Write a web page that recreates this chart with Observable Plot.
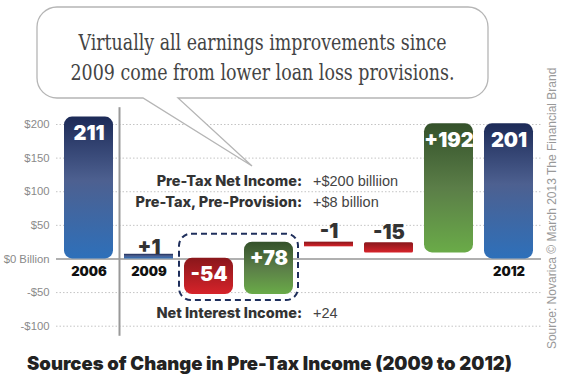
<!DOCTYPE html>
<html><head><meta charset="utf-8">
<script src="https://cdn.jsdelivr.net/npm/d3@7"></script>
<script src="https://cdn.jsdelivr.net/npm/@observablehq/plot@0.6"></script>
<style>
html,body{margin:0;padding:0;background:#fff;}
#wrap{position:relative;width:565px;height:380px;overflow:hidden;}
#wrap svg{display:block;}
#title{position:absolute;left:27px;top:352px;white-space:nowrap;font-family:Inter,"Liberation Sans",Arial,sans-serif;font-weight:900;font-size:18.5px;line-height:22px;color:#222;}
</style></head><body><div id="wrap"></div><script>
// ---- data ----
const categories = ["2006","2009","Interest −","Interest +","Other","Expenses","Provisions","2012"];
const values = [211, 1, -54, 78, -1, -15, 192, 201];
const isTotal = [true, true, false, false, false, false, false, true];
const barLabels = ["211","+1","-54","+78","-1","-15","+192","201"];
const axisCategories = ["2006","2009","2012"];
const yTicks = [200,150,100,50,0,-50,-100];
const yTickLabels = ["$200","$150","$100","$50","$0 Billion","-$50","-$100"];
const noteLabels = ["Pre-Tax Net Income:","Pre-Tax, Pre-Provision:","Net Interest Income:"];
const noteValues = ["+$200 billiion","+$8 billion","+24"];
const noteY = [115, 84, -81];
const bubbleLines = ["Virtually all earnings improvements since","2009 come from lower loan loss provisions."];
const sourceText = "Source: Novarica © March 2013 The Financial Brand";
const titleText = "Sources of Change in Pre-Tax Income (2009 to 2012)";

// ---- derived waterfall rows ----
let run = 0;
const rows = categories.map((c, i) => {
  const v = values[i];
  let y1, y2;
  if (isTotal[i]) { y1 = 0; y2 = v; run = v; } else { y1 = run; y2 = run + v; run = y2; }
  return {cat: c, v, y1, y2, top: Math.max(y1, y2), bottom: Math.min(y1, y2),
    kind: isTotal[i] ? "total" : (v > 0 ? "up" : "down"), label: barLabels[i],
    small: Math.abs(v) < 5, big: Math.abs(v) >= 30};
});
const grad = {total: "url(#gBlue)", up: "url(#gGreen)", down: "url(#gRed)"};
const notes = noteLabels.map((l, i) => ({cat: "Other", label: l, value: noteValues[i], y: noteY[i]}));

const heavy = "Inter, 'Liberation Sans', Arial, sans-serif";

function defsMark() {
  const defs = d3.create("svg:defs");
  const mk = (id, stops) => {
    const g = defs.append("linearGradient").attr("id", id).attr("x1", 0).attr("y1", 0).attr("x2", 0).attr("y2", 1);
    stops.forEach(([o, c]) => g.append("stop").attr("offset", o).attr("stop-color", c));
  };
  mk("gBlue", [[0, "#1c2a57"], [0.45, "#4d6090"], [1, "#2e70ba"]]);
  mk("gGreen", [[0, "#34512a"], [0.5, "#5b7e48"], [1, "#6aab48"]]);
  mk("gRed", [[0, "#8a171b"], [1, "#d6232a"]]);
  return defs.node();
}

function annotationMark(index, scales) {
  const x = scales.x, y = scales.y;
  const bw = x.bandwidth();
  const g = d3.create("svg:g");
  // separator between 2006 and the rest
  const sx = (x("2006") + bw + x("2009")) / 2 + 1;
  g.append("line").attr("x1", sx).attr("x2", sx).attr("y1", y(225)).attr("y2", y(-115))
    .attr("stroke", "#999").attr("stroke-width", 2);
  // dashed box around the net interest income bars
  const a = rows.find(r => r.cat === "Interest −"), b = rows.find(r => r.cat === "Interest +");
  const x0 = x(a.cat) - 5, x1 = x(b.cat) + bw + 5;
  const yt = y(Math.max(a.top, b.top)) - 8, yb = y(Math.min(a.bottom, b.bottom)) + 6;
  g.append("rect").attr("x", x0).attr("y", yt).attr("width", x1 - x0).attr("height", yb - yt)
    .attr("rx", 12).attr("fill", "none").attr("stroke", "#1f2f5c").attr("stroke-width", 2)
    .attr("stroke-dasharray", "6,4");
  // speech bubble
  const L = 37, R = 488, T = 7, B = 98, r = 20;
  const tipX = 252, tipY = 166, tA = 143, tB = 178;
  g.append("path").attr("d",
    `M${L + r},${T}H${R - r}A${r},${r} 0 0 1 ${R},${T + r}V${B - r}A${r},${r} 0 0 1 ${R - r},${B}` +
    `H${tB}L${tipX},${tipY}L${tA},${B}H${L + r}A${r},${r} 0 0 1 ${L},${B - r}V${T + r}A${r},${r} 0 0 1 ${L + r},${T}Z`)
    .attr("fill", "#fff").attr("stroke", "#b5b5b5").attr("stroke-width", 1.3);
  const widths = [368, 384];
  bubbleLines.forEach((line, i) => g.append("text").attr("text-anchor", "middle").attr("fill", "#444")
    .attr("font-family", "'DejaVu Serif Condensed', 'DejaVu Serif', 'Liberation Serif', serif")
    .attr("font-stretch", "condensed").attr("font-size", 23)
    .attr("x", (L + R) / 2).attr("y", 50 + i * 30)
    .attr("textLength", widths[i]).attr("lengthAdjust", "spacingAndGlyphs").text(line));
  return g.node();
}

const chart = Plot.plot({
  width: 565, height: 345,
  marginLeft: 56, marginRight: 24, marginTop: 124, marginBottom: 19.3,
  x: {domain: categories, paddingInner: 0.18, paddingOuter: 0.09, axis: null},
  y: {domain: [-100, 200], axis: null},
  style: {fontFamily: "'Liberation Sans', Arial, sans-serif", background: "#fff", overflow: "visible"},
  marks: [
    defsMark,
    Plot.gridY(yTicks.filter(d => d !== 0), {stroke: "#c4c4c4", strokeOpacity: 1, strokeDasharray: "1.5,2"}),
    Plot.ruleY([0], {stroke: "#b0b0b0", strokeWidth: 2}),
    Plot.axisY(yTicks, {tickSize: 0, tickPadding: 7, tickFormat: d => yTickLabels[yTicks.indexOf(d)], color: "#8a8a8a", fontSize: 11.3}),
    ...["total", "up", "down"].map(k => Plot.barY(rows.filter(r => r.kind === k && r.big), {x: "cat", y1: "y1", y2: "y2", fill: grad[k], rx: 8})),
    ...["total", "up", "down"].map(k => Plot.barY(rows.filter(r => r.kind === k && !r.big && !r.small), {x: "cat", y1: "y1", y2: "y2", fill: grad[k], rx: 1.5})),
    ...["total", "up", "down"].map(k => Plot.barY(rows.filter(r => r.kind === k && r.small && r.v > 0), {x: "cat", y1: "y1", y2: "y2", fill: grad[k], insetTop: -4})),
    ...["total", "up", "down"].map(k => Plot.barY(rows.filter(r => r.kind === k && r.small && r.v < 0), {x: "cat", y1: "y1", y2: "y2", fill: grad[k], insetBottom: -4})),
    Plot.text(rows.filter(r => r.big), {x: "cat", y: "top", text: "label", lineAnchor: "top", dy: 9, fill: "#fff", fontSize: 20, fontWeight: 900, fontFamily: heavy}),
    Plot.text(rows.filter(r => !r.big), {x: "cat", y: "top", text: "label", lineAnchor: "bottom", dy: -4, fill: "#333", fontSize: 20, fontWeight: 900, fontFamily: heavy}),
    Plot.text(rows.filter(r => axisCategories.includes(r.cat)), {x: "cat", y: () => 0, text: "cat", dy: 13, fill: "#111", fontSize: 13, fontWeight: 900, fontFamily: heavy}),
    Plot.text(notes, {x: "cat", y: "y", text: "label", textAnchor: "end", dx: -27, fill: "#333", fontSize: 14.5, fontWeight: 800, fontFamily: heavy}),
    Plot.text(notes, {x: "cat", y: "y", text: "value", textAnchor: "start", dx: -16, fill: "#444", fontSize: 14.5}),
    Plot.text([sourceText], {text: d => d, frameAnchor: "right", textAnchor: "middle", rotate: -90, dx: 11, dy: -17, fill: "#999", fontSize: 12}),
    annotationMark
  ]
});
document.getElementById("wrap").appendChild(chart);
const title = document.createElement("div");
title.id = "title";
title.textContent = titleText;
document.getElementById("wrap").appendChild(title);
</script></body></html>
